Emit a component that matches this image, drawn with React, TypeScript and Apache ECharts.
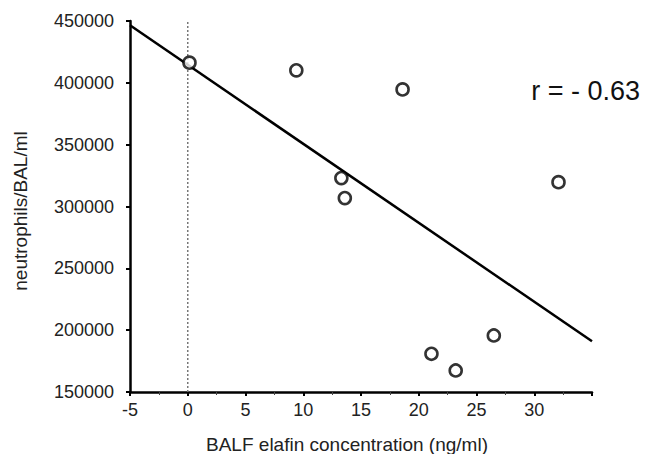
import React, { useEffect, useRef } from "react";
import * as echarts from "echarts";

const elafin = [0.15, 9.4, 18.6, 13.3, 13.6, 32.1, 21.1, 23.2, 26.5];
const neutrophils = [416300, 410100, 394700, 323000, 306800, 319700, 180900, 167400, 195700];
const fitX = [-5, 35];
const fitY = [446500, 191000];
const xTickLabels = ["-5", "0", "5", "10", "15", "20", "25", "30"];
const annotation = "r = - 0.63";

export default function App() {
  const ref = useRef<HTMLDivElement>(null);
  useEffect(() => {
    const chart = echarts.init(ref.current!, undefined, { renderer: "svg" });
    const font = "Liberation Sans, Arial, Helvetica, sans-serif";
    chart.setOption({
      animation: false,
      backgroundColor: "#ffffff",
      grid: { left: 130, right: 54, top: 21, bottom: 62, outerBoundsMode: "none", containLabel: false },
      xAxis: {
        type: "value",
        min: -5,
        max: 35,
        interval: 5,
        name: "BALF elafin concentration (ng/ml)",
        nameLocation: "middle",
        nameGap: 43,
        nameTextStyle: { color: "#222", fontSize: 19, fontFamily: font, padding: [0, 28, 0, 0] },
        axisLine: { show: true, onZero: false, lineStyle: { color: "#000", width: 2.5 } },
        axisTick: { show: true, length: 4, lineStyle: { color: "#000", width: 2 } },
        minorTick: { show: true, splitNumber: 2, length: 3, lineStyle: { color: "#444", width: 1 } },
        splitLine: { show: false },
        axisLabel: {
          color: "#222",
          fontSize: 18,
          fontFamily: font,
          margin: 9,
          formatter: (v: number) => {
            const s = String(v);
            return xTickLabels.includes(s) ? s : "";
          },
        },
      },
      yAxis: {
        type: "value",
        min: 150000,
        max: 450000,
        interval: 50000,
        name: "neutrophils/BAL/ml",
        nameLocation: "middle",
        nameGap: 100,
        nameTextStyle: { color: "#222", fontSize: 19, fontFamily: font, padding: [0, 9, 0, 0] },
        axisLine: { show: true, onZero: false, lineStyle: { color: "#000", width: 2.5 } },
        axisTick: { show: true, length: 4, lineStyle: { color: "#000", width: 2 } },
        splitLine: { show: false },
        axisLabel: {
          color: "#222",
          fontSize: 18,
          fontFamily: font,
          margin: 16,
          formatter: (v: number) => String(v),
        },
      },
      series: [
        {
          type: "line",
          data: [[0, 150000], [0, 450000]],
          symbol: "none",
          lineStyle: { color: "#777", width: 1.5, type: [2, 2] },
          z: 1,
        },
        {
          type: "line",
          data: fitX.map((x, i) => [x, fitY[i]]),
          symbol: "none",
          lineStyle: { color: "#000", width: 2.5 },
          z: 2,
        },
        {
          type: "scatter",
          data: elafin.map((x, i) => [x, neutrophils[i]]),
          symbol: "circle",
          symbolSize: 12,
          itemStyle: { color: "#fff", borderColor: "#000", borderWidth: 2.6 },
          z: 3,
        },
      ],
      graphic: [
        {
          type: "text",
          right: 6,
          top: 77,
          style: { text: annotation, fontSize: 27, fontFamily: font, fill: "#111" },
        },
      ],
    });
    return () => chart.dispose();
  }, []);
  return <div ref={ref} style={{ width: 646, height: 454, position: "fixed", left: 0, top: 0 }} />;
}
